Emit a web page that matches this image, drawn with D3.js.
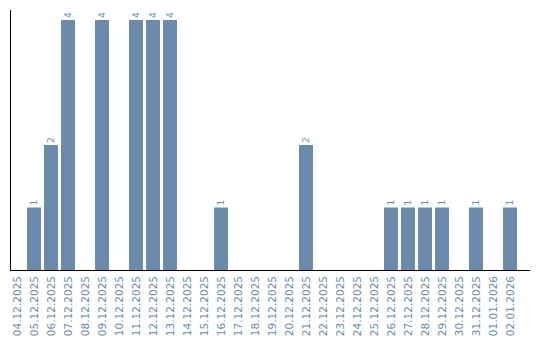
<!DOCTYPE html>
<html>
<head>
<meta charset="utf-8">
<script src="https://cdn.jsdelivr.net/npm/d3@7"></script>
<style>
  body { margin: 0; background: #fff; }
  text { font-family: "DejaVu Sans", sans-serif; }
</style>
</head>
<body>
<div id="chart"></div>
<script>
// dates and counts
var dates = ["04.12.2025", "05.12.2025", "06.12.2025", "07.12.2025", "08.12.2025",
  "09.12.2025", "10.12.2025", "11.12.2025", "12.12.2025", "13.12.2025",
  "14.12.2025", "15.12.2025", "16.12.2025", "17.12.2025", "18.12.2025",
  "19.12.2025", "20.12.2025", "21.12.2025", "22.12.2025", "23.12.2025",
  "24.12.2025", "25.12.2025", "26.12.2025", "27.12.2025", "28.12.2025",
  "29.12.2025", "30.12.2025", "31.12.2025", "01.01.2026", "02.01.2026"];
var counts = [0, 1, 2, 4, 0, 4, 0, 4, 4, 4, 0, 0, 1, 0, 0, 0, 0, 2, 0, 0, 0, 0, 1, 1, 1, 1, 0, 1, 0, 1];

var svgWidth = 540;
var svgHeight = 340;
var barColor = "#6a8bab";
var textColor = "#6a8bab";

var svg = d3.select("#chart").append("svg")
  .attr("width", svgWidth)
  .attr("height", svgHeight);

var x = d3.scaleBand()
  .domain(dates)
  .range([8.5, 518.5])
  .paddingInner(3 / 17)
  .paddingOuter(3 / 34);

var y = d3.scaleLinear()
  .domain([0, 4])
  .range([270, 20]);

var data = dates.map(function(d, i) { return { date: d, count: counts[i] }; });

// bars
svg.selectAll("rect.bar")
  .data(data.filter(d => d.count > 0))
  .enter()
  .append("rect")
  .attr("class", "bar")
  .attr("x", d => x(d.date))
  .attr("y", d => y(d.count))
  .attr("width", x.bandwidth())
  .attr("height", d => y(0) - y(d.count))
  .attr("fill", barColor);

// value labels above bars
svg.selectAll("text.val")
  .data(data.filter(d => d.count > 0))
  .enter()
  .append("text")
  .attr("class", "val")
  .attr("transform", d => `translate(${x(d.date) + x.bandwidth() / 2 + 3}, ${y(d.count) - 2}) rotate(-90)`)
  .attr("font-size", "9px")
  .attr("fill", textColor)
  .text(d => d.count);

// x axis labels
var xAxis = svg.append("g")
  .attr("transform", "translate(0, 270)")
  .call(d3.axisBottom(x).tickSize(0));

xAxis.select(".domain").remove();
xAxis.selectAll("text")
  .attr("font-family", "DejaVu Sans, sans-serif")
  .attr("font-size", "10.5px")
  .attr("fill", textColor)
  .attr("text-anchor", "end")
  .attr("transform", "rotate(-90)")
  .attr("x", -6)
  .attr("y", 0)
  .attr("dy", "0.35em");

// axis lines
svg.append("line")
  .attr("x1", 10.5).attr("x2", 10.5)
  .attr("y1", 10).attr("y2", 270)
  .attr("stroke", "#000")
  .attr("stroke-width", 1);

svg.append("line")
  .attr("x1", 10).attr("x2", 530)
  .attr("y1", 270.5).attr("y2", 270.5)
  .attr("stroke", "#000")
  .attr("stroke-width", 1);
</script>
</body>
</html>
